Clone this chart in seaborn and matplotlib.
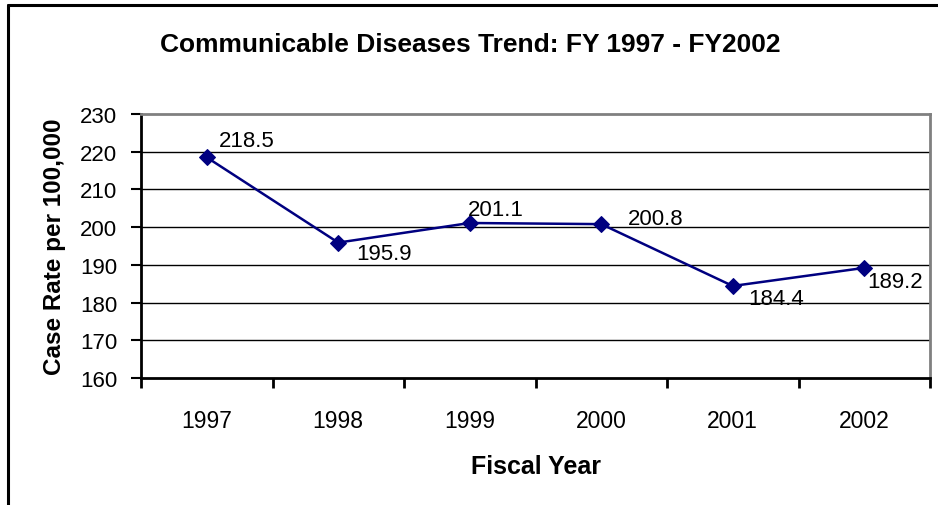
import matplotlib
matplotlib.use("Agg")
import matplotlib.pyplot as plt
import matplotlib.lines as mlines
from matplotlib.ticker import FixedLocator, NullFormatter
import seaborn as sns
import pandas as pd

years = ["1997", "1998", "1999", "2000", "2001", "2002"]
rates = [218.5, 195.9, 201.1, 200.8, 184.4, 189.2]
# label offsets in points (dx, dy) relative to each marker
label_offsets = [(9, 12), (13, -8), (-1, 10), (19, 4), (11, -9), (2, -10)]
y_ticks = [160, 170, 180, 190, 200, 210, 220, 230]

sns.set_theme(style="white")
plt.rcParams["font.family"] = ["Liberation Sans", "DejaVu Sans"]
plt.rcParams.update({"text.color": "black", "axes.labelcolor": "black",
                     "xtick.color": "black", "ytick.color": "black"})

df = pd.DataFrame({"year": years, "rate": rates})

fig = plt.figure(figsize=(9.38, 5.06), dpi=100)
fig.patch.set_facecolor("white")
ax = fig.add_axes([141 / 938, 1 - 379 / 506, (930 - 141) / 938, (379 - 115) / 506])

sns.lineplot(data=df, x="year", y="rate", ax=ax, color="#000080",
             linewidth=1.8, marker="D", markersize=8,
             markeredgecolor="#000080", markerfacecolor="#000080", sort=False)

ax.set_xlim(-0.5, len(years) - 0.5)
ax.set_ylim(160, 230)
ax.set_yticks(y_ticks)
ax.set_yticklabels([str(t) for t in y_ticks], fontsize=16)

# category labels centred, tick marks between categories
ax.xaxis.set_major_locator(FixedLocator([i - 0.5 for i in range(len(years) + 1)]))
ax.xaxis.set_major_formatter(NullFormatter())
ax.xaxis.set_minor_locator(FixedLocator(list(range(len(years)))))
ax.set_xticklabels(years, minor=True, fontsize=16.5)
ax.tick_params(axis="x", which="major", direction="out", length=7, width=2,
               color="black", bottom=True)
ax.tick_params(axis="x", which="minor", length=0, pad=22, bottom=True)
ax.tick_params(axis="y", direction="out", length=7, width=1.5, color="black",
               left=True, pad=10)

for y in y_ticks[1:-1]:
    ax.axhline(y, color="black", linewidth=1, zorder=0)

for side in ("left", "bottom"):
    ax.spines[side].set_color("black")
    ax.spines[side].set_linewidth(2)
for side in ("top", "right"):
    ax.spines[side].set_color("#808080")
    ax.spines[side].set_linewidth(2)

for i, (v, (dx, dy)) in enumerate(zip(rates, label_offsets)):
    ax.annotate(f"{v:.1f}", xy=(i, v), xytext=(dx, dy), textcoords="offset points",
                ha="left", va="center", fontsize=16, color="black")

ax.set_xlabel("Fiscal Year", fontsize=18, fontweight="bold", labelpad=16)
ax.set_ylabel("Case Rate per 100,000", fontsize=17.5, fontweight="bold", labelpad=10)

fig.text(470 / 938, 1 - 45 / 506, "Communicable Diseases Trend: FY 1997 - FY2002",
         ha="center", va="center", fontsize=19, fontweight="bold")

# outer chart frame (left and top edges)
fig.add_artist(mlines.Line2D([8 / 938, 8 / 938], [0, 1 - 6 / 506],
                             transform=fig.transFigure, color="black", linewidth=2.2))
fig.add_artist(mlines.Line2D([8 / 938, 1], [1 - 6 / 506, 1 - 6 / 506],
                             transform=fig.transFigure, color="black", linewidth=2.2))

fig.savefig("out.png", dpi=100, facecolor="white")
